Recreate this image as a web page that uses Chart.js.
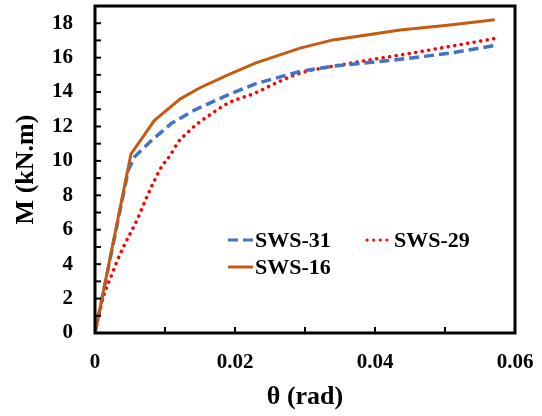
<!DOCTYPE html>
<html>
<head>
<meta charset="utf-8">
<script src="https://cdn.jsdelivr.net/npm/chart.js@4"></script>
<style>
  html, body { margin: 0; padding: 0; background: #fff; }
  #wrap { width: 542px; height: 416px; }
</style>
</head>
<body>
<div id="wrap"><canvas id="mTheta" width="542" height="416"></canvas></div>
<script>
// rotation (rad) and moment (kN.m)
var theta31 = [0, 0.00476, 0.0057, 0.0081, 0.011, 0.0143, 0.019, 0.0229, 0.0293, 0.034, 0.0436, 0.0507, 0.057];
var m31     = [0, 9.48, 10.25, 11.2, 12.2, 12.97, 13.84, 14.48, 15.2, 15.5, 15.9, 16.26, 16.7];

var theta29 = [0, 0.0012, 0.0024, 0.0036, 0.0048, 0.006, 0.0074, 0.0083, 0.0095, 0.0107, 0.0119, 0.0131, 0.0143, 0.0165, 0.019, 0.0229, 0.026, 0.0293, 0.034, 0.039, 0.0436, 0.0507, 0.057];
var m29     = [0, 2.1, 3.4, 4.6, 5.6, 6.57, 7.9, 8.7, 9.65, 10.3, 11.1, 11.6, 12.05, 12.7, 13.35, 13.95, 14.55, 15.1, 15.5, 15.85, 16.15, 16.65, 17.1];

var theta16 = [0, 0.00514, 0.00847, 0.01214, 0.015, 0.019, 0.0229, 0.0293, 0.034, 0.0436, 0.0507, 0.0571];
var m16     = [0, 10.4, 12.34, 13.59, 14.25, 15.0, 15.68, 16.55, 17.03, 17.6, 17.9, 18.2];

var xTicks = [0, 0.02, 0.04, 0.06];
var yTicks = [0, 2, 4, 6, 8, 10, 12, 14, 16, 18];

var serif = '"Liberation Serif", "Times New Roman", serif';

function pts(xs, ys) {
    return xs.map(function (x, i) { return { x: x, y: ys[i] }; });
}

function near(list, v) {
    return list.some(function (t) { return Math.abs(t - v) < 1e-9; });
}

// frame, inward tick marks and the legend inside the plot
var framePlugin = {
    id: 'frame',
    afterDatasetsDraw: function (chart) {
        var ctx = chart.ctx, a = chart.chartArea;
        var xs = chart.scales.x, ys = chart.scales.y;
        ctx.save();
        ctx.strokeStyle = '#000';
        ctx.lineWidth = 2;
        xs.ticks.forEach(function (t) {
            var px = xs.getPixelForValue(t.value);
            ctx.beginPath();
            ctx.moveTo(px, a.bottom);
            ctx.lineTo(px, a.bottom - 6);
            ctx.stroke();
        });
        ys.ticks.forEach(function (t) {
            var py = ys.getPixelForValue(t.value);
            ctx.beginPath();
            ctx.moveTo(a.left, py);
            ctx.lineTo(a.left + 6, py);
            ctx.stroke();
        });
        ctx.lineWidth = 3;
        ctx.strokeRect(a.left, a.top, a.right - a.left, a.bottom - a.top);
        ctx.restore();
    },
    afterDraw: function (chart) {
        var ctx = chart.ctx;
        var spots = [[228, 240], [367, 240], [228, 267]];
        ctx.save();
        ctx.font = 'bold 22px ' + serif;
        ctx.textBaseline = 'middle';
        ctx.fillStyle = '#000';
        chart.data.datasets.forEach(function (ds, i) {
            var p = spots[i];
            ctx.beginPath();
            ctx.strokeStyle = ds.borderColor;
            ctx.lineWidth = 3;
            ctx.lineCap = ds.borderCapStyle || 'butt';
            ctx.setLineDash(ds.borderDash || []);
            ctx.moveTo(p[0], p[1]);
            ctx.lineTo(p[0] + 25, p[1]);
            ctx.stroke();
            ctx.setLineDash([]);
            ctx.fillText(ds.label, p[0] + 27, p[1] + 1);
        });
        ctx.restore();
    }
};

var config = {
    type: 'line',
    data: {
        datasets: [{
            label: 'SWS-31',
            data: pts(theta31, m31),
            borderColor: '#4472C4',
            borderWidth: 3.5,
            borderDash: [10, 5],
            order: 1
        }, {
            label: 'SWS-29',
            data: pts(theta29, m29),
            borderColor: '#FF0000',
            borderWidth: 3.5,
            borderDash: [0.1, 6.5],
            borderCapStyle: 'round',
            cubicInterpolationMode: 'monotone',
            order: 2
        }, {
            label: 'SWS-16',
            data: pts(theta16, m16),
            borderColor: '#C55A11',
            borderWidth: 3,
            order: 0
        }]
    },
    options: {
        responsive: false,
        animation: false,
        events: [],
        layout: { padding: { top: 6, right: 27, left: 0, bottom: 0 } },
        elements: { point: { radius: 0 }, line: { tension: 0, fill: false } },
        plugins: {
            legend: { display: false },
            tooltip: { enabled: false }
        },
        scales: {
            x: {
                type: 'linear',
                min: 0,
                max: 0.06,
                grid: { display: false, drawTicks: false },
                border: { display: false },
                ticks: {
                    stepSize: 0.01,
                    padding: 17,
                    maxRotation: 0,
                    autoSkip: false,
                    color: '#000',
                    font: { family: serif, size: 21, weight: 'bold' },
                    callback: function (v) {
                        if (!near(xTicks, v)) return '';
                        return v === 0 ? '0' : v.toFixed(2);
                    }
                },
                title: {
                    display: true,
                    text: 'θ (rad)',
                    color: '#000',
                    padding: { top: 0, bottom: 3 },
                    font: { family: serif, size: 26, weight: 'bold' }
                },
                afterFit: function (s) {
                    s.height = 83;
                    s.paddingLeft = 0;
                    s.paddingRight = 0;
                }
            },
            y: {
                min: 0,
                max: 19,
                grid: { display: false, drawTicks: false },
                border: { display: false },
                ticks: {
                    stepSize: 1,
                    padding: 22,
                    autoSkip: false,
                    color: '#000',
                    font: { family: serif, size: 21, weight: 'bold' },
                    callback: function (v) {
                        return near(yTicks, v) ? String(v) : '';
                    }
                },
                title: {
                    display: true,
                    text: 'M (kN.m)',
                    color: '#000',
                    padding: { top: 11, bottom: 0 },
                    font: { family: serif, size: 26, weight: 'bold' }
                },
                afterFit: function (s) {
                    s.width = 95;
                    s.paddingTop = 0;
                    s.paddingBottom = 0;
                }
            }
        }
    },
    plugins: [framePlugin]
};

var ctx = document.getElementById('mTheta').getContext('2d');
window.mThetaChart = new Chart(ctx, config);
</script>
</body>
</html>
